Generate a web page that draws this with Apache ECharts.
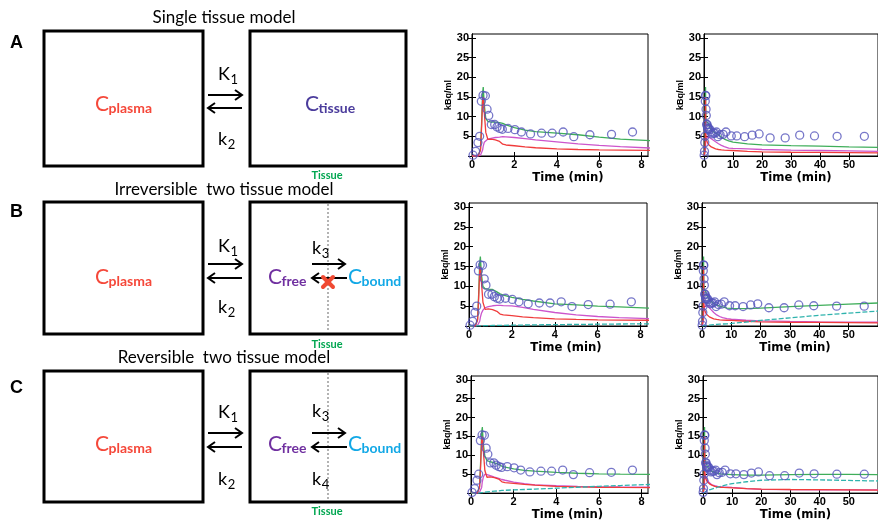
<!DOCTYPE html>
<html><head><meta charset="utf-8">
<script src="https://cdn.jsdelivr.net/npm/echarts@6/dist/echarts.min.js"></script>
<style>html,body{margin:0;padding:0;background:#fff}#c{width:878px;height:522px}</style>
</head><body><div id="c"></div>
<script>
// ---- measured data (same acquisition in every panel) ----
const measT = [0.05,0.17,0.28,0.36,0.44,0.52,0.63,0.71,0.79,0.91,1.07,1.18,1.31,1.43,1.70,2.02,2.33,2.76,3.28,3.78,4.30,4.80,5.56,6.58,7.57,9.4,11.3,14,16.6,19,22.8,28,33,38.1,45.9,55.3];
const measV = [0.2,1.2,3.4,5.0,13.9,15.4,15.3,11.9,10.3,8.0,8.0,7.4,7.0,6.8,7.0,6.7,6.1,5.6,5.8,5.8,6.1,4.9,5.4,5.5,6.1,5.1,5.1,4.9,5.3,5.6,4.6,4.6,5.3,5.1,5.0,5.0];
// ---- model curves ----
const fitT    = [0,0.3,0.4,0.45,0.5,0.53,0.58,0.65,0.75,0.9,1.1,1.3,1.45,1.6,2,2.5,3,4,5,6,7,8.5,10,15,20,30,40,50,60];
const plasma  = [0,0.1,1.5,7,14,15,11,6,4.2,4.3,4.1,3.7,3.0,2.8,2.6,2.3,2.1,1.8,1.65,1.55,1.5,1.45,1.4,1.2,1.05,0.95,0.9,0.85,0.8];
// A: single tissue model
const fitA    = [0,0.1,1.7,8,16,17.5,13,9.5,8.8,8.6,8.6,8.5,8.3,7.9,7.2,6.6,6.2,5.8,5.4,4.8,4.3,3.85,3.5,3.1,2.85,2.65,2.5,2.3,2.2];
const tissueA = [0,0,0.2,0.5,1.5,2.5,3.5,4.0,4.3,4.5,4.7,4.8,4.9,4.85,4.7,4.4,4.1,3.6,3.1,2.7,2.4,2.0,1.95,1.8,1.65,1.5,1.4,1.3,1.2];
// B: irreversible two tissue model
const fitB    = [0,0.1,1.7,8,16,17.5,13,10,9.4,9.3,9.2,8.6,8.1,7.8,7.2,6.7,6.3,5.6,5.3,5.0,4.8,4.5,4.45,4.4,4.5,4.9,5.2,5.5,5.8];
const freeB   = [0,0,0.2,0.5,1.2,2.2,3.2,4.0,4.6,4.9,5.1,5.2,5.2,5.15,5.05,4.7,4.2,3.4,2.8,2.4,2.1,1.85,1.7,1.45,1.3,1.15,1.05,1.0,0.95];
const boundB  = [0,0,0.01,0.02,0.03,0.04,0.05,0.06,0.08,0.1,0.12,0.14,0.15,0.16,0.2,0.24,0.28,0.34,0.4,0.45,0.5,0.55,0.65,1.0,1.4,2.05,2.7,3.25,3.75];
// C: reversible two tissue model
const fitC    = [0,0.1,1.7,8,16,17.5,13,9.8,8.6,8.3,8.0,7.6,7.1,6.9,6.4,6.0,5.8,5.5,5.25,5.1,5.0,4.95,4.9,4.75,4.75,4.9,4.95,4.95,4.9];
const freeC   = [0,0,0.2,0.5,1.5,3.0,4.3,5.0,4.9,4.6,4.2,3.9,3.6,3.4,2.9,2.5,2.2,1.95,1.8,1.7,1.65,1.6,1.5,1.2,1.0,0.9,0.85,0.85,0.85];
const boundC  = [0,0,0.02,0.05,0.1,0.13,0.17,0.22,0.3,0.4,0.5,0.6,0.7,0.75,0.85,0.95,1.05,1.3,1.55,1.8,2.0,2.3,2.5,3.0,3.4,3.6,3.5,3.35,3.2];
// ---- ticks ----
const xTicksShort = [0,2,4,6,8];
const xTicksLong  = [0,10,20,30,40,50];
const yTicks      = [0,5,10,15,20,25,30];
const yTickLabels = [5,10,15,20,25,30];

const GREEN='#3fae5a', MAG='#cc55cc', RED='#f03c3c', CYAN='#2fb3ad', CIRC='#5555bb';
const pairs = (T,V)=>T.map((t,i)=>[t,V[i]]);

const rowCurves = [
  [[fitA,GREEN],[tissueA,MAG],[plasma,RED]],
  [[fitB,GREEN],[freeB,MAG],[plasma,RED],[boundB,CYAN]],
  [[fitC,GREEN],[freeC,MAG],[plasma,RED],[boundC,CYAN]]
];
const rowLay = [{top:34,h:122,ng:8},{top:203,h:123,ng:8},{top:376,h:121,ng:12}];
const colLay = [
  [{l:472,w:176},{l:704,w:189}],
  [{l:469,w:178},{l:702,w:189}],
  [{l:471,w:177},{l:703,w:189}]
];

const grids=[], xAxes=[], yAxes=[], series=[];
const lblFont = {color:'#000', fontWeight:'bold', fontSize:11, fontFamily:'Liberation Sans, Arial'};
for (let r=0;r<3;r++){
  for (let c=0;c<2;c++){
    const g = r*2+c;
    const L = colLay[r][c];
    grids.push({left:L.l, top:rowLay[r].top, width:L.w, height:rowLay[r].h, show:true, borderColor:'#000', borderWidth:1, backgroundColor:'#fff'});
    const xmax = c===0 ? 8.3 : 60;
    const xt = c===0 ? xTicksShort : xTicksLong;
    xAxes.push({gridIndex:g, type:'value', min:0, max:xmax, position:'bottom',
      axisLine:{show:true, lineStyle:{color:'#000'}}, splitLine:{show:false},
      axisTick:{inside:true, length:4, customValues:xt, lineStyle:{color:'#000'}},
      axisLabel:{customValues:xt, margin:3, ...lblFont},
      name:'Time (min)', nameLocation:'middle', nameGap:rowLay[r].ng,
      nameTextStyle:{color:'#000', fontWeight:'bold', fontSize:13, fontFamily:'Liberation Sans Narrow, Arial Narrow, DejaVu Sans Condensed, Liberation Sans', padding: c===0?[0,0,0,16]:[0,0,0,10]}});
    xAxes.push({gridIndex:g, type:'value', min:0, max:xmax, position:'top',
      axisLine:{show:true, lineStyle:{color:'#000'}}, splitLine:{show:false},
      axisTick:{inside:true, length:4, customValues:xt, lineStyle:{color:'#000'}},
      axisLabel:{show:false}});
    yAxes.push({gridIndex:g, type:'value', min:0, max:31, position:'left',
      axisLine:{show:true, lineStyle:{color:'#000'}}, splitLine:{show:false},
      axisTick:{inside:true, length:4, customValues:yTicks, lineStyle:{color:'#000'}},
      axisLabel:{customValues:yTickLabels, margin:3, ...lblFont},
      name:'kBq/ml', nameLocation:'middle', nameGap:17, nameRotate:90,
      nameTextStyle:{color:'#000', fontWeight:'bold', fontSize:9, fontFamily:'Liberation Sans, Arial'}});
    yAxes.push({gridIndex:g, type:'value', min:0, max:31, position:'right',
      axisLine:{show:true, lineStyle:{color:'#000'}}, splitLine:{show:false},
      axisTick:{inside:true, length:4, customValues:yTicks, lineStyle:{color:'#000'}},
      axisLabel:{show:false}});
    rowCurves[r].forEach(([vals,col])=>{
      series.push({type:'line', xAxisIndex:2*g, yAxisIndex:2*g, data:pairs(fitT,vals), showSymbol:false, symbol:'none',
        lineStyle:{color:col, width:1.3, type: col===CYAN?[5,2]:'solid'}, clip:true, silent:true, animation:false});
    });
    series.push({type:'scatter', xAxisIndex:2*g, yAxisIndex:2*g, data:pairs(measT,measV), symbol:'circle', symbolSize:8,
      itemStyle:{color:'rgba(0,0,0,0)', borderColor:CIRC, borderWidth:1.3}, clip:true, silent:true, animation:false, z:5});
  }
}

// ---- diagram (left half) ----
const mctx = document.createElement('canvas').getContext('2d');
function tw(text, font){ mctx.font = font; return mctx.measureText(text).width; }
const DF = 'Lato, "Open Sans", sans-serif';
const el = [];
function txt(x,y,text,font,fill,align){
  el.push({type:'text', x:x, y:y, style:{text:text, font:font, fill:fill, textAlign:align||'left', textVerticalAlign:'middle', align:align||'left', verticalAlign:'middle'}, silent:true});
}
function subTxt(x,y,main,sub,color,mSize,sSize,sOff){
  const mf = mSize+'px '+DF, sf = 'bold '+sSize+'px '+DF;
  txt(x,y,main,mf,color);
  txt(x+tw(main,mf)-0.5,y+sOff,sub,sf,color);
}
function kTxt(x,y,main,sub){
  const mf = '18px '+DF, sf = '13px '+DF;
  txt(x,y,main,mf,'#000');
  txt(x+tw(main,mf)+0.5,y+6,sub,sf,'#000');
}
function arrow(x1,x2,y){
  const d = x2>x1?1:-1;
  el.push({type:'polyline', shape:{points:[[x1,y],[x2,y]]}, style:{stroke:'#000', lineWidth:2, fill:null}, silent:true});
  el.push({type:'polyline', shape:{points:[[x2-d*7,y-5],[x2,y],[x2-d*7,y+5]]}, style:{stroke:'#000', lineWidth:2, fill:null, lineJoin:'miter'}, silent:true});
}
function box(x,y,w,h){
  el.push({type:'rect', shape:{x:x,y:y,width:w,height:h}, style:{fill:null, stroke:'#000', lineWidth:3}, silent:true});
}
const diag = [
  {title:'Single tissue model', ty:18, letter:'A', ly:43, by:31, bh:135, K1:74, aR:95, aL:108, k2:139, cy:104, tis:175, kind:1},
  {title:'Irreversible  two tissue model', ty:190, letter:'B', ly:212, by:202, bh:132, K1:246, aR:264, aL:278, k2:307, cy:277, tis:344, kind:2, k3:248},
  {title:'Reversible  two tissue model', ty:358, letter:'C', ly:388, by:371, bh:131, K1:412, aR:433, aL:447, k2:479, cy:444, tis:511, kind:3, k3:411, k4:479}
];
diag.forEach(d=>{
  txt(224,d.ty,d.title,'17px '+DF,'#000','center');
  txt(10,d.ly,d.letter,'bold 18px Liberation Sans, Arial','#000');
  box(44,d.by,159,d.bh);
  box(250,d.by,156,d.bh);
  kTxt(218,d.K1,'K','1');
  kTxt(218,d.k2,'k','2');
  arrow(208,242,d.aR);
  arrow(242,208,d.aL);
  subTxt(95,d.cy,'C','plasma','#f5483a',21,14,4);
  txt(327,d.tis,'Tissue','bold 11px '+DF,'#00a650','center');
  if (d.kind===1){
    subTxt(305,d.cy,'C','tissue','#4b3c9c',21,14,4);
  } else {
    el.push({type:'line', shape:{x1:328,y1:d.by+2,x2:328,y2:d.by+d.bh-2}, style:{stroke:'#9a9a9a', lineWidth:1.5, lineDash:[2,2]}, silent:true});
    subTxt(268,d.cy,'C','free','#7030a0',21,14,4);
    subTxt(348,d.cy,'C','bound','#12a8e6',21,14,4);
    kTxt(312,d.k3,'k','3');
    arrow(312,345,d.aR);
    arrow(347,312,d.aL);
    if (d.kind===2){
      el.push({type:'line', shape:{x1:323,y1:277,x2:333,y2:287}, style:{stroke:'#f04a32', lineWidth:4, lineCap:'round'}, silent:true});
      el.push({type:'line', shape:{x1:323,y1:287,x2:333,y2:277}, style:{stroke:'#f04a32', lineWidth:4, lineCap:'round'}, silent:true});
    } else {
      kTxt(312,d.k4,'k','4');
    }
  }
});

const chart = echarts.init(document.getElementById('c'), null, {renderer:'canvas'});
chart.setOption({
  animation:false,
  backgroundColor:'#fff',
  grid:grids, xAxis:xAxes, yAxis:yAxes, series:series,
  graphic:{elements:el}
});
</script></body></html>
